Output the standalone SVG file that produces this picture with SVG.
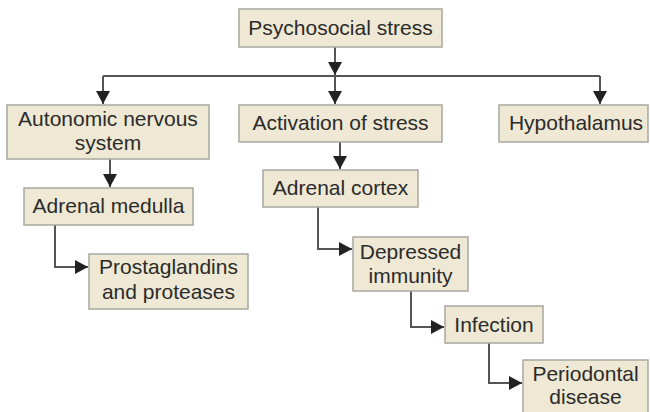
<svg xmlns="http://www.w3.org/2000/svg" width="650" height="412" viewBox="0 0 650 412">
<defs>
<style>
.box{fill:#eee8d4;stroke:#a8a8a0;stroke-width:1.5}
.t{font-family:"Liberation Sans",Arial,sans-serif;font-size:21px;fill:#2b2b2b;text-anchor:middle}
.c{fill:none;stroke:#555;stroke-width:2}
.a{marker-end:url(#ah)}
</style>
<marker id="ah" markerUnits="userSpaceOnUse" markerWidth="14" markerHeight="14" viewBox="0 0 14 14" refX="13" refY="7" orient="auto">
<path d="M0,0 L13,7 L0,14 z" fill="#222"/>
</marker>
</defs>
<rect width="650" height="412" fill="#fff"/>
<g id="connectors">
<line class="c a" x1="335" y1="47" x2="335" y2="75"/>
<path class="c" d="M103,76 H600"/>
<line class="c a" x1="103" y1="76" x2="103" y2="104"/>
<line class="c a" x1="335" y1="76" x2="335" y2="104"/>
<line class="c a" x1="600" y1="76" x2="600" y2="104"/>
<line class="c a" x1="110" y1="159" x2="110" y2="187"/>
<line class="c a" x1="340" y1="142" x2="340" y2="169"/>
<path class="c a" d="M55,225 V267 H88"/>
<path class="c a" d="M318,207 V249 H352"/>
<path class="c a" d="M411,291 V327 H444"/>
<path class="c a" d="M489,343 V383 H522"/>
</g>
<g id="psychosocial-stress">
<rect class="box" x="239" y="9" width="203" height="38"/>
<text class="t" x="340.5" y="35">Psychosocial stress</text>
</g>
<g id="autonomic-nervous-system">
<rect class="box" x="7" y="105" width="202" height="54"/>
<text class="t" x="108" y="126">Autonomic nervous</text>
<text class="t" x="108" y="150">system</text>
</g>
<g id="activation-of-stress">
<rect class="box" x="239" y="105" width="203" height="37"/>
<text class="t" x="340.5" y="130">Activation of stress</text>
</g>
<g id="hypothalamus">
<rect class="box" x="499" y="105" width="149" height="37"/>
<text class="t" x="576" y="130">Hypothalamus</text>
</g>
<g id="adrenal-medulla">
<rect class="box" x="24" y="188" width="169" height="37"/>
<text class="t" x="108.5" y="213">Adrenal medulla</text>
</g>
<g id="adrenal-cortex">
<rect class="box" x="263" y="170" width="155" height="37"/>
<text class="t" x="340.5" y="195">Adrenal cortex</text>
</g>
<g id="prostaglandins">
<rect class="box" x="89" y="254" width="159" height="55"/>
<text class="t" x="168.5" y="274">Prostaglandins</text>
<text class="t" x="168.5" y="299">and proteases</text>
</g>
<g id="depressed-immunity">
<rect class="box" x="353" y="237" width="115" height="54"/>
<text class="t" x="410.5" y="259">Depressed</text>
<text class="t" x="410.5" y="283">immunity</text>
</g>
<g id="infection">
<rect class="box" x="445" y="306" width="98" height="37"/>
<text class="t" x="494" y="332">Infection</text>
</g>
<g id="periodontal-disease">
<rect class="box" x="523" y="360" width="125" height="58"/>
<text class="t" x="585.5" y="381">Periodontal</text>
<text class="t" x="585.5" y="404">disease</text>
</g>
</svg>
